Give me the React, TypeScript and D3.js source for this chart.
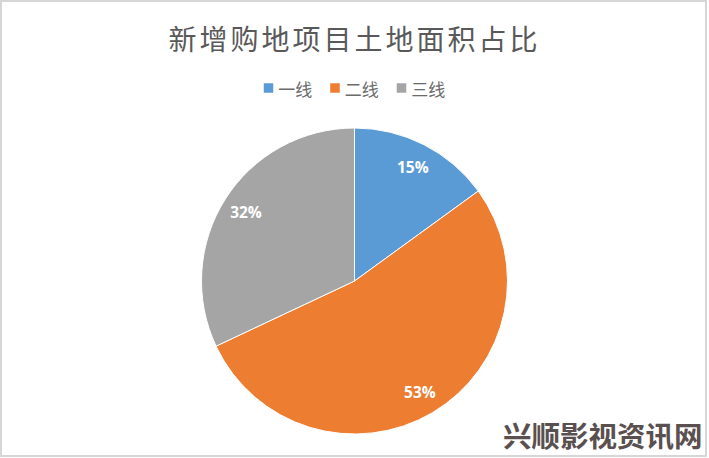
import React from "react";
import * as d3 from "d3";

const categories = ["一线", "二线", "三线"];
const values = [15, 53, 32];
const colors = ["#5B9BD5", "#ED7D31", "#A5A5A5"];
const title = "新增购地项目土地面积占比";
const watermark = "兴顺影视资讯网";

const W = 709;
const H = 458;
const cx = 354.5;
const cy = 281;
const R = 153;

export default function App() {
  const pie = d3
    .pie<number>()
    .sort(null)
    .value((d) => d)
    .startAngle(0)
    .endAngle(Math.PI * 2);
  const arcs = pie(values);
  const arcGen = d3.arc<d3.PieArcDatum<number>>().innerRadius(0).outerRadius(R);
  const labelArc = d3
    .arc<d3.PieArcDatum<number>>()
    .innerRadius(R * 0.84)
    .outerRadius(R * 0.84);
  const total = d3.sum(values);

  const legendFont = 17;
  const sq = 9.5;
  const itemW = sq + 5 + legendFont * 2 + 18;
  const legendStart = cx - (categories.length * itemW - 18) / 2;

  return (
    <svg
      width={W}
      height={H}
      style={{ position: "absolute", left: 0, top: 0, background: "#fff" }}
    >
      <rect x={0} y={0} width={W} height={H} fill="#fff" />
      <rect
        x={1}
        y={1}
        width={705}
        height={455}
        fill="none"
        stroke="#d6d6d6"
        strokeWidth={2}
      />
      <text
        x={cx}
        y={38}
        textAnchor="middle"
        dominantBaseline="central"
        fontFamily="'Noto Sans CJK SC', sans-serif"
        fontSize={28}
        letterSpacing={3}
        fill="#595959"
      >
        {title}
      </text>
      {categories.map((c, i) => {
        const x = legendStart + i * itemW;
        return (
          <g key={c}>
            <rect x={x} y={88 - sq / 2} width={sq} height={sq} fill={colors[i]} />
            <text
              x={x + sq + 5}
              y={88}
              dominantBaseline="central"
              fontFamily="'Noto Sans CJK SC', sans-serif"
              fontSize={legendFont}
              fill="#6b6b6b"
            >
              {c}
            </text>
          </g>
        );
      })}
      <g transform={`translate(${cx},${cy})`}>
        {arcs.map((a, i) => (
          <path
            key={i}
            d={arcGen(a) || ""}
            fill={colors[i]}
            stroke="#fff"
            strokeWidth={1}
          />
        ))}
        {arcs.map((a, i) => {
          const [lx, ly] = labelArc.centroid(a);
          return (
            <text
              key={"l" + i}
              x={lx}
              y={ly}
              textAnchor="middle"
              dominantBaseline="central"
              fontFamily="'Open Sans', sans-serif"
              fontWeight="bold"
              fontSize={15.5}
              fill="#fff"
            >
              {Math.round((values[i] / total) * 100) + "%"}
            </text>
          );
        })}
      </g>
      <text
        x={503}
        y={434}
        dominantBaseline="central"
        fontFamily="'Noto Sans CJK SC', sans-serif"
        fontWeight="bold"
        fontSize={28.5}
        fill="#5a5050"
      >
        {watermark}
      </text>
    </svg>
  );
}
